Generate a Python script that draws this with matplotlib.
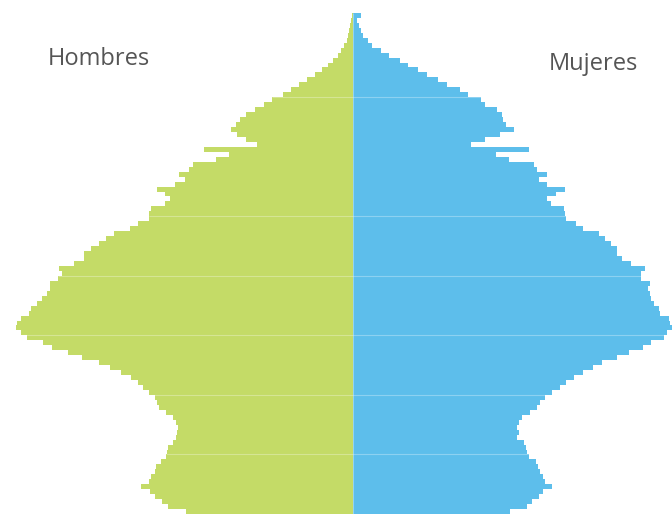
import matplotlib.pyplot as plt
import numpy as np

# edades 0..100 (una barra por año)
edades = np.arange(0, 101)

hombres = [166.5, 184.8, 190.8, 197.5, 202.5, 211.8, 203.5, 201.8, 197.5, 196.8,
           191.8, 186.8, 185.8, 184.2, 179.2, 176.8, 175.8, 174.2, 176.8, 179.2,
           186.8, 193.2, 195.8, 197.5, 203.5, 209.2, 214.2, 221.8, 231.8, 242.5,
           253.2, 270.2, 284.5, 300.2, 309.8, 325.8, 331.5, 336.8, 335.2, 331.8,
           323.2, 321.5, 315.2, 310.8, 305.8, 302.5, 302.5, 294.2, 290.8, 293.2,
           278.5, 268.2, 268.2, 261.2, 253.2, 246.5, 238.8, 222.5, 214.5, 203.2,
           203.2, 201.8, 187.5, 182.2, 187.5, 195.5, 177.5, 167.5, 173.5, 163.8,
           159.2, 136.5, 123.8, 148.5, 95.8, 106.5, 115.8, 121.5, 116.5, 112.5,
           106.5, 97.5, 88.5, 80.8, 69.8, 61.8, 53.2, 45.2, 37.5, 30.5,
           24.2, 19.2, 14.8, 11.2, 8.2, 5.8, 4.2, 3.2, 2.2, 1.5,
           0.8]

mujeres = [157.5, 174.5, 179.8, 186.5, 190.5, 199.5, 192.8, 190.5, 187.2, 185.5,
           183.2, 176.2, 174.8, 173.8, 171.2, 164.8, 166.2, 164.8, 166.2, 169.2,
           177.2, 184.8, 187.2, 192.8, 199.5, 207.5, 213.2, 221.5, 230.5, 240.8,
           249.5, 264.8, 276.8, 290.5, 298.8, 311.2, 314.5, 319.2, 317.8, 316.2,
           307.8, 306.5, 301.5, 298.8, 297.2, 295.5, 297.2, 288.8, 288.2, 292.5,
           278.2, 269.8, 264.2, 264.8, 258.2, 252.5, 246.8, 230.5, 223.2, 213.8,
           212.8, 211.5, 198.8, 194.5, 203.2, 212.8, 194.8, 186.8, 194.5, 184.8,
           181.5, 156.2, 143.5, 176.2, 118.2, 132.8, 147.8, 161.2, 153.8, 150.5,
           149.5, 144.5, 132.8, 128.8, 115.5, 107.8, 94.5, 85.5, 74.8, 65.5,
           55.5, 47.2, 36.2, 28.8, 19.8, 15.5, 10.5, 8.2, 6.5, 4.8,
           8.2]

# lineas claras cada 12 años (falta la de 71.5 en el original)
lineas = [11.5, 23.5, 35.5, 47.5, 59.5, 83.5]

verde = '#c4db67'
azul = '#5dbeeb'

hombres = np.array(hombres)
mujeres = np.array(mujeres)

fig = plt.figure(figsize=(6.72, 5.14), dpi=100)
ax = fig.add_axes([0, 0, 1, 1])

ax.barh(edades, -hombres, height=1.0, color=verde, linewidth=0, antialiased=False)
ax.barh(edades, mujeres, height=1.0, color=azul, linewidth=0, antialiased=False)

# lineas blancas tenues dentro de las barras
for y in lineas:
    lo = int(y - 0.5)
    hi = lo + 1
    ax.hlines(y, -max(hombres[lo], hombres[hi]), max(mujeres[lo], mujeres[hi]),
              color='white', lw=0.8, alpha=0.3)
ax.vlines(0, -0.5, 100.5, color='white', lw=0.7, alpha=0.35)

ax.set_xlim(-352.5, 319.5)
ax.set_ylim(-0.5, 103.1)
ax.axis('off')

fig.text(48 / 672, 1 - 65 / 514, 'Hombres', fontsize=17, family='Open Sans',
         color='#555555', ha='left', va='baseline')
fig.text(549 / 672, 1 - 70 / 514, 'Mujeres', fontsize=17, family='Open Sans',
         color='#555555', ha='left', va='baseline')

plt.savefig('out.png', dpi=100)
